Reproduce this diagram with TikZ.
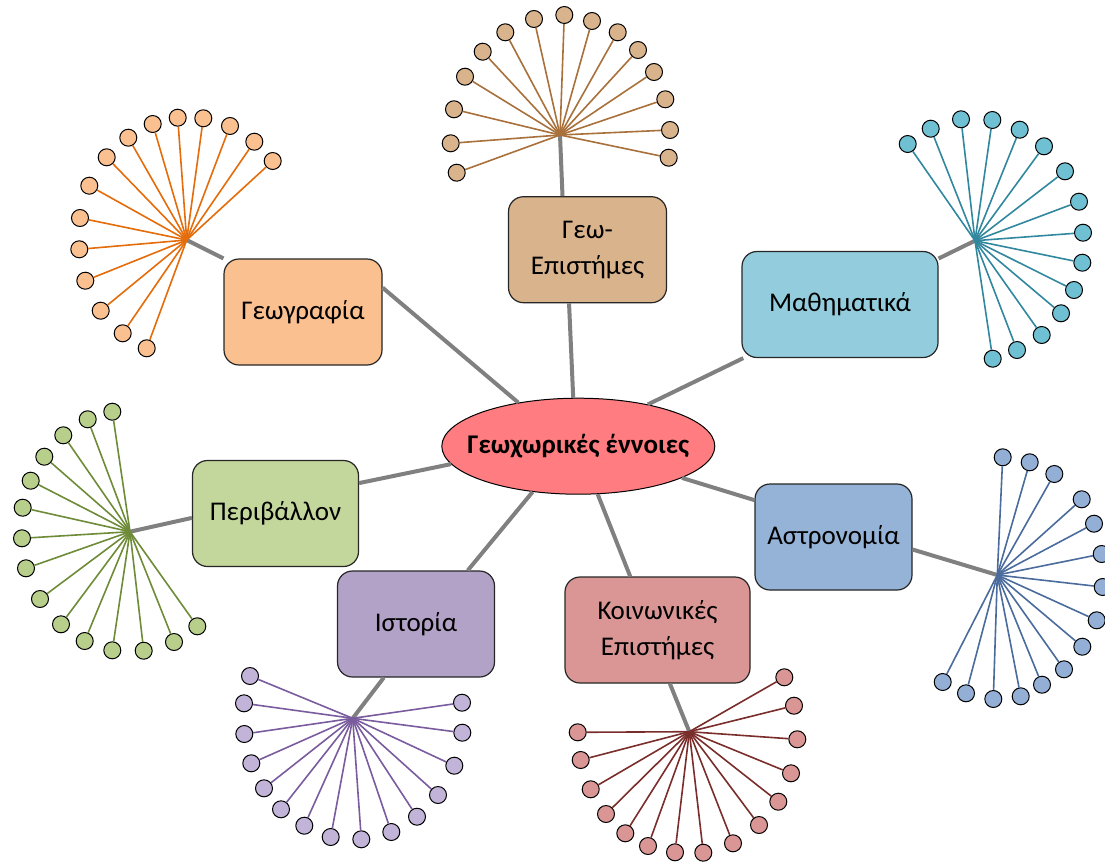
\documentclass[tikz,border=0pt]{standalone}
\usepackage{fontspec}
\setmainfont{Carlito}
\usetikzlibrary{shapes.geometric}
\definecolor{corered}{HTML}{FF7C80}
\definecolor{trunkgray}{HTML}{808080}
\definecolor{orangefill}{HTML}{FAC090}
\definecolor{orangeline}{HTML}{E46C0A}
\definecolor{tanfill}{HTML}{D9B38C}
\definecolor{tanline}{HTML}{A8703A}
\definecolor{aquafill}{HTML}{93CDDD}
\definecolor{aqualeaf}{HTML}{70C0D3}
\definecolor{aqualine}{HTML}{31889E}
\definecolor{greenfill}{HTML}{C3D69B}
\definecolor{greenleaf}{HTML}{B8CF8C}
\definecolor{greenline}{HTML}{6E8B38}
\definecolor{bluefill}{HTML}{95B3D7}
\definecolor{blueleaf}{HTML}{93AFD5}
\definecolor{blueline}{HTML}{4A6B9C}
\definecolor{purplefill}{HTML}{B3A2C7}
\definecolor{purpleleaf}{HTML}{C2B3D8}
\definecolor{purpleline}{HTML}{7A5C9E}
\definecolor{redfill}{HTML}{D99694}
\definecolor{redline}{HTML}{7A2E2B}

\begin{document}
\begin{tikzpicture}[x=1pt, y=-1pt,
    core/.style={ellipse, draw=black, line width=1pt, fill=corered, minimum width=273pt, minimum height=96pt, inner xsep=-15pt, inner ysep=0pt, font=\fontsize{27}{32}\selectfont\bfseries},
    topic/.style={draw=black!85, line width=1.2pt, rounded corners=15pt, minimum height=106pt, inner sep=0pt, align=center, font=\fontsize{27}{36}\selectfont},
    trunk/.style={draw=trunkgray, line width=4pt},
    spoke/.style={line width=1.6pt},
    leaf/.style={circle, draw=black, line width=1pt, minimum size=17pt, inner sep=0pt}]
    \useasboundingbox (0,0) rectangle (1105,862);

    \node[core] (core) at (578.3,446.2) {Γεωχωρικές έννοιες};
    \node[topic, fill=orangefill, minimum width=158pt] (geo) at (303,312) {Γεωγραφία};
    \node[topic, fill=tanfill, minimum width=158pt] (geosci) at (587.5,249.7) {Γεω-\\Επιστήμες};
    \node[topic, fill=aquafill, minimum width=196pt] (math) at (840,304.5) {Μαθηματικά};
    \node[topic, fill=greenfill, minimum width=166pt] (env) at (275.5,513.5) {Περιβάλλον};
    \node[topic, fill=bluefill, minimum width=157pt] (astro) at (833.5,537) {Αστρονομία};
    \node[topic, fill=purplefill, minimum width=157pt] (hist) at (416,624) {Ιστορία};
    \node[topic, fill=redfill, minimum width=185pt] (soc) at (657.5,630) {Κοινωνικές\\Επιστήμες};

    %% links to the centre
    \draw[trunk] (core.144) -- (geo.17);
    \draw[trunk] (core.96) -- (geosci.251);
    \draw[trunk] (core.31) -- (math.209);
    \draw[trunk] (core.188) -- (env.20);
    \draw[trunk] (core.343) -- (astro.155);
    \draw[trunk] (core.225) -- (hist.46);
    \draw[trunk] (core.292) -- (soc.117);

    %% hubs of the fans
    \coordinate (geohub) at (186.7,240);
    \coordinate (geoscihub) at (560,135);
    \coordinate (mathhub) at (975,240.7);
    \coordinate (envhub) at (130,531.7);
    \coordinate (astrohub) at (997.3,575);
    \coordinate (histhub) at (352.7,718.3);
    \coordinate (sochub) at (689.3,731.7);
    \draw[trunk] (geohub) -- (geo.146);
    \draw[trunk] (geoscihub) -- (geosci.115);
    \draw[trunk] (mathhub) -- (math.25);
    \draw[trunk] (envhub) -- (env.183);
    \draw[trunk] (astrohub) -- (astro.351);
    \draw[trunk] (histhub) -- (hist.239);
    \draw[trunk] (sochub) -- (soc.283);

    %% fans
    \foreach \x/\y [count=\i] in {146.7/348.3, 122.7/333.3, 100.7/310.7, 85.3/280.7, 79.3/249.3, 80/218, 89.3/185.7, 106.7/157.3, 128.3/137.7, 152.7/124, 177.7/117.7, 203.3/118.3, 230/126, 254.3/141.7, 272.7/161} {
        \node[leaf, fill=orangefill] (geoleaf\i) at (\x,\y) {};
        \draw[spoke, orangeline] (geohub) -- (geoleaf\i);
    }
    \foreach \x/\y [count=\i] in {456.7/172.7, 450.7/143.3, 454/109.3, 465/76.7, 482.7/51.7, 505.3/32.3, 534/19, 564.3/15, 592/21, 617.7/32.3, 638/50, 654/72, 665.3/99.3, 670/130, 668.7/157.7} {
        \node[leaf, fill=tanfill] (geoscileaf\i) at (\x,\y) {};
        \draw[spoke, tanline] (geoscihub) -- (geoscileaf\i);
    }
    \foreach \x/\y [count=\i] in {907.7/144, 930.7/128.7, 961/119.3, 992.3/120, 1019.7/129.7, 1044/146.3, 1065/171.3, 1079/201.7, 1083/232.7, 1082.3/262.7, 1074/290, 1061/313.3, 1041.7/335, 1017/350, 992.7/358.7} {
        \node[leaf, fill=aqualeaf] (mathleaf\i) at (\x,\y) {};
        \draw[spoke, aqualine] (mathhub) -- (mathleaf\i);
    }
    \foreach \x/\y [count=\i] in {197.3/626.3, 174/642, 143.7/650.7, 112.3/650.3, 84.7/641, 61/624.3, 40/599, 26/568.3, 22/538.3, 22.7/507.7, 30.7/480.7, 44.3/456.7, 63.3/435.3, 87.7/419.3, 112.3/411.7} {
        \node[leaf, fill=greenleaf] (envleaf\i) at (\x,\y) {};
        \draw[spoke, greenline] (envhub) -- (envleaf\i);
    }
    \foreach \x/\y [count=\i] in {1002.7/457.3, 1029.7/462.3, 1054.3/474, 1081.7/499.3, 1094/523.7, 1101.7/554, 1102.7/587, 1096.7/620.3, 1082.3/646.7, 1064/669.3, 1042/684.7, 1020.7/696.3, 993.3/699, 966/693.3, 942.7/682} {
        \node[leaf, fill=blueleaf] (astroleaf\i) at (\x,\y) {};
        \draw[spoke, blueline] (astrohub) -- (astroleaf\i);
    }
    \foreach \x/\y [count=\i] in {250/676, 244/703.3, 244.3/734, 251.3/763.3, 264/788.3, 281/809.3, 304.3/825.7, 330.7/837, 361.3/839.3, 391.3/832, 417/816.7, 438/795, 454.3/765.7, 462.3/732.7, 462/702.7} {
        \node[leaf, fill=purpleleaf] (histleaf\i) at (\x,\y) {};
        \draw[spoke, purpleline] (histhub) -- (histleaf\i);
    }
    \foreach \x/\y [count=\i] in {577.7/732.3, 580.7/760, 590.7/789.3, 606/814, 625.3/833.3, 648/846, 675/852.3, 703.3/852.7, 733/843.3, 759/825, 778.3/801.7, 791/773.3, 797.3/739.3, 794/705.7, 784.3/677.3} {
        \node[leaf, fill=redfill] (socleaf\i) at (\x,\y) {};
        \draw[spoke, redline] (sochub) -- (socleaf\i);
    }
\end{tikzpicture}
\end{document}
